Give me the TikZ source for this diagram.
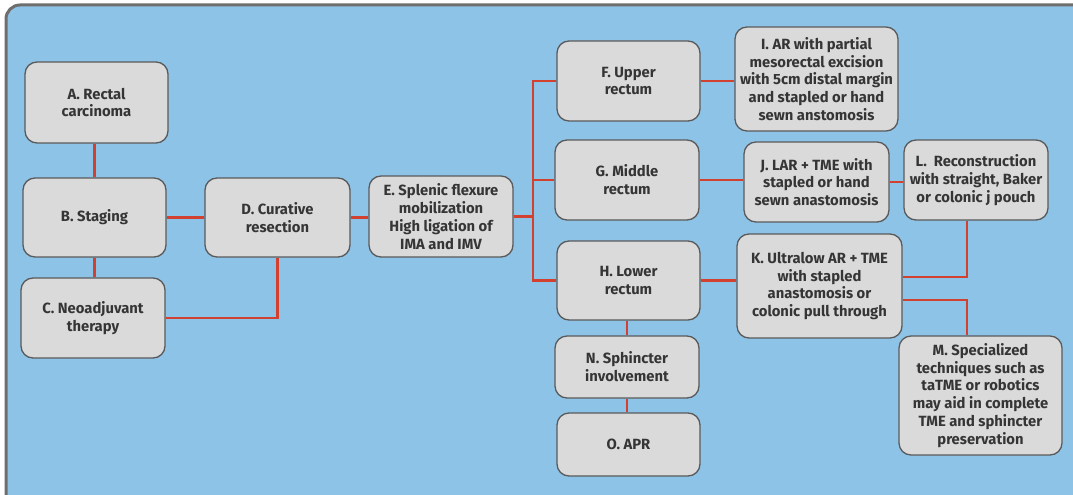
\documentclass[tikz,border=0pt]{standalone}
\usepackage{fontspec}
\setmainfont{Fira Sans}
\usetikzlibrary{calc}
\definecolor{bg}{HTML}{8EC3E8}
\definecolor{boxfill}{HTML}{DADADA}
\definecolor{boxline}{HTML}{5A5A5A}
\definecolor{link}{HTML}{D2412F}
\definecolor{txt}{HTML}{353535}
\definecolor{frame}{HTML}{6E6E6E}
\tikzset{
  box/.style={draw=boxline, line width=1.3pt, fill=boxfill, rounded corners=12pt,
    align=center, text=txt, inner sep=1pt,
    font=\bfseries\fontsize{14.8}{17.8}\selectfont},
  conn/.style={draw=link, line width=2.6pt}
}
\begin{document}
\begin{tikzpicture}[x=1pt,y=-1pt]
\useasboundingbox (0,0) rectangle (1073,495);
\fill[white] (0,0) rectangle (1073,495);
\begin{scope}
\clip (0,0) rectangle (1073,495);
\draw[fill=bg, draw=frame, line width=3pt, rounded corners=14pt] (6,5) rectangle (1100,520);
\end{scope}
% nodes
\node[box, minimum width=143pt, minimum height=81pt] (A) at (96.5,102.5) {A. Rectal\\carcinoma};
\node[box, minimum width=143pt, minimum height=79pt] (B) at (94.5,217.5) {B. Staging};
\node[box, minimum width=144pt, minimum height=80pt] (C) at (93,318) {C. Neoadjuvant\\therapy};
\node[box, minimum width=145pt, minimum height=79pt] (D) at (277.5,217.5) {D. Curative\\resection};
\node[box, minimum width=144pt, minimum height=81pt] (E) at (441,216.5) {E. Splenic flexure\\mobilization\\High ligation of\\IMA and IMV};
\node[box, minimum width=143pt, minimum height=80pt] (F) at (628.5,81) {F. Upper\\rectum};
\node[box, minimum width=144pt, minimum height=80pt] (G) at (627,180) {G. Middle\\rectum};
\node[box, minimum width=143pt, minimum height=79pt] (H) at (628.5,280.5) {H. Lower\\rectum};
\node[box, minimum width=144pt, minimum height=62pt] (N) at (627,367) {N. Sphincter\\involvement};
\node[box, minimum width=143pt, minimum height=63pt] (O) at (628.5,444.5) {O. APR};
\node[box, minimum width=163pt, minimum height=104pt] (I) at (816.5,79) {I. AR with partial\\mesorectal excision\\with 5cm distal margin\\and stapled or hand\\sewn anstomosis};
\node[box, minimum width=145pt, minimum height=80pt] (J) at (816.5,182) {J. LAR + TME with\\stapled or hand\\sewn anastomosis};
\node[box, minimum width=144pt, minimum height=80pt] (L) at (976,180) {L.\ \ Reconstruction\\with straight, Baker\\or colonic j pouch};
\node[box, minimum width=165pt, minimum height=104pt] (K) at (819.5,286) {K. Ultralow AR + TME\\with stapled\\anastomosis or\\colonic pull through};
\node[box, minimum width=163pt, minimum height=119pt] (M) at (980.5,395.5) {M. Specialized\\techniques such as\\taTME or robotics\\may aid in complete\\TME and sphincter\\preservation};
\coordinate (tr) at (533,0);
% connectors
\draw[conn] (B.north) -- (B.north |- A.south);
\draw[conn] (B.east) -- (D.west);
\draw[conn] (B.south) -- (B.south |- C.north);
\draw[conn] (C.east) -| (D.south);
\draw[conn] (D.east) -- (D.east -| E.west);
\draw[conn] (E.east) -- (E.east -| tr);
\draw[conn] (F.west) -- (F.west -| tr) -- (H.west -| tr) -- (H.west);
\draw[conn] (G.west) -- (G.west -| tr);
\draw[conn] (F.east) -- (F.east -| I.west);
\draw[conn] (G.east) -- (G.east -| J.west);
\draw[conn] (J.east) -- (J.east -| L.west);
\draw[conn] (H.east) -- (H.east -| K.west);
\draw[conn] ($(L.south)+(-9,0)$) |- ($(K.east)+(0,-9)$);
\draw[conn] ($(K.east)+(0,14)$) -| ($(M.north)+(-13.5,0)$);
\draw[conn] (N.north) -- (N.north |- H.south);
\draw[conn] (N.south) -- (N.south |- O.north);
\end{tikzpicture}
\end{document}
